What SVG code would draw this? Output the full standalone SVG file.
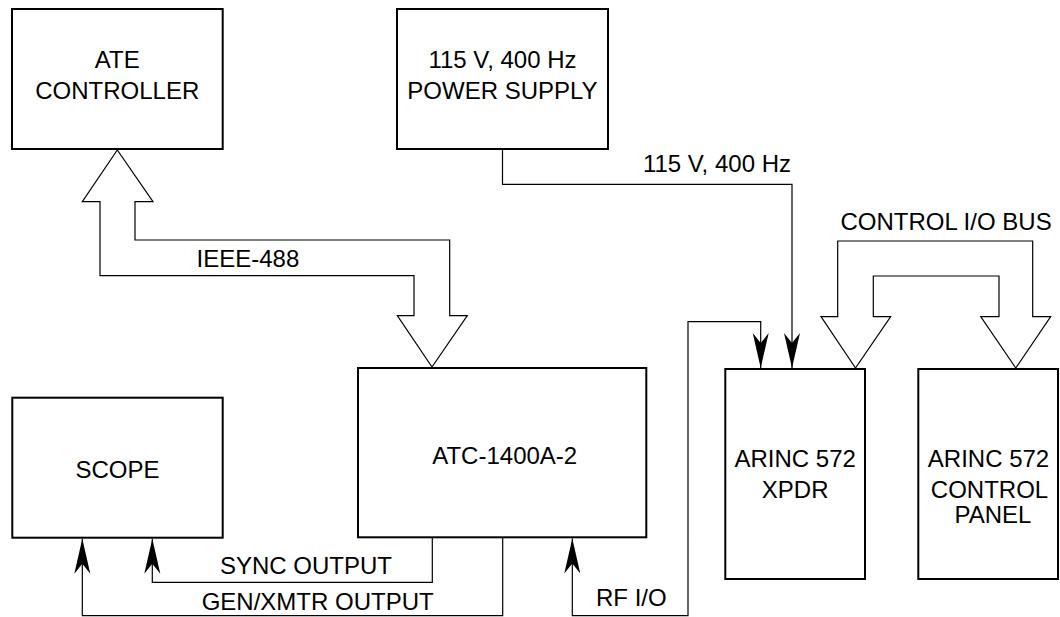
<svg xmlns="http://www.w3.org/2000/svg" width="1060" height="617" viewBox="0 0 1060 617">
<style>
.box{fill:#fff;stroke:#000;stroke-width:2}
.ln{fill:none;stroke:#000;stroke-width:1.2}
.bus{fill:#fff;stroke:#000;stroke-width:1.2;stroke-linejoin:miter}
text{font-family:"Liberation Sans",Arial,Helvetica,sans-serif;font-size:24px;fill:#000}
.c{text-anchor:middle}
</style>
<defs>
<marker id="ah" markerUnits="userSpaceOnUse" orient="auto" markerWidth="40" markerHeight="16" viewBox="0 0 40 16" refX="36" refY="8" overflow="visible">
<path d="M36,8 L1,0 L11,8 L1,16 Z" fill="#000"/>
</marker>
<marker id="ahs" markerUnits="userSpaceOnUse" orient="auto-start-reverse" markerWidth="40" markerHeight="16" viewBox="0 0 40 16" refX="36" refY="8" overflow="visible">
<path d="M36,8 L1,0 L11,8 L1,16 Z" fill="#000"/>
</marker>
</defs>
<rect width="1060" height="617" fill="#fff"/>
<g id="connectors">
<path id="ieee488" class="bus" d="M100,201.7 L82.3,201.7 L117.3,150 L153,201.7 L135,201.7 L135,240 L449.7,240 L449.7,315.7 L467.3,315.7 L432,367 L397.3,315.7 L414,315.7 L414,275.7 L100,275.7 Z"/>
<text x="196.5" y="266.7">IEEE-488</text>
<path id="power" class="ln" d="M502.5,150 V184.3 H792 V368" marker-end="url(#ah)"/>
<text x="791" y="171.7" text-anchor="end">115 V, 400 Hz</text>
<path id="ctrlbus" class="bus" d="M837.7,316.7 L821,316.7 L855.5,368 L890.7,316.7 L873.3,316.7 L873.3,276 L999,276 L999,316.7 L980.7,316.7 L1015.8,368 L1050.7,316.7 L1032.7,316.7 L1032.7,241 L837.7,241 Z"/>
<text x="840.5" y="230">CONTROL I/O BUS</text>
<path id="rfio" class="ln" d="M572.3,538.5 V615.7 H688 V321.7 H760.7 V368" marker-start="url(#ahs)" marker-end="url(#ahs)"/>
<text x="596" y="606">RF I/O</text>
<path id="sync" class="ln" d="M432.3,538 V582.3 H152.3 V538.7" marker-end="url(#ah)"/>
<text x="220" y="574">SYNC OUTPUT</text>
<path id="gen" class="ln" d="M502.7,538 V615.7 H82.3 V538.7" marker-end="url(#ah)"/>
<text x="201.7" y="610">GEN/XMTR OUTPUT</text>
</g>
<g id="ate">
<rect class="box" x="12" y="9" width="210.7" height="140"/>
<text class="c" x="117.3" y="68.3">ATE</text>
<text class="c" x="117.3" y="99">CONTROLLER</text>
</g>
<g id="psu">
<rect class="box" x="397" y="9" width="211" height="140"/>
<text class="c" x="502.5" y="68.3">115 V, 400 Hz</text>
<text class="c" x="502.5" y="99">POWER SUPPLY</text>
</g>
<g id="scope">
<rect class="box" x="12.3" y="397.7" width="210.4" height="140"/>
<text class="c" x="117.5" y="477.7">SCOPE</text>
</g>
<g id="atc">
<rect class="box" x="358" y="368" width="288.3" height="169.3"/>
<text class="c" x="504.7" y="464.3">ATC-1400A-2</text>
</g>
<g id="xpdr">
<rect class="box" x="725.3" y="369" width="139.7" height="210"/>
<text class="c" x="795.2" y="466.7">ARINC 572</text>
<text class="c" x="795.2" y="498.3">XPDR</text>
</g>
<g id="panel">
<rect class="box" x="918.3" y="369" width="139.7" height="210"/>
<text class="c" x="988.5" y="466.7">ARINC 572</text>
<text class="c" x="989.5" y="498.3">CONTROL</text>
<text class="c" x="993" y="523.3">PANEL</text>
</g>
</svg>
